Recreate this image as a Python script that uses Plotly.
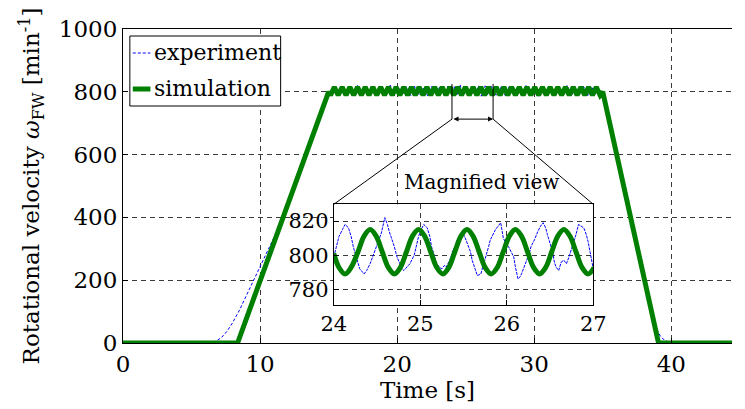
import plotly.graph_objects as go

# ---------------- data ----------------
x_ticks = [0, 10, 20, 30, 40]
y_ticks = [0, 200, 400, 600, 800, 1000]
zoom_x_ticks = [24, 25, 26, 27]
zoom_y_ticks = [780, 800, 820]

# simulation: ramp up, oscillating plateau (troughs / peaks), ramp down
sim_up_t = [0, 8.36, 15.00]
sim_up_v = [0, 0, 800]
sim_plateau_t = [15.14, 15.42, 15.70, 15.99, 16.27, 16.55, 16.83, 17.11, 17.39, 17.67,
                 17.95, 18.23, 18.51, 18.80, 19.08, 19.36, 19.64, 19.92, 20.20, 20.48,
                 20.76, 21.04, 21.32, 21.60, 21.89, 22.17, 22.45, 22.73, 23.01, 23.29,
                 23.57, 23.85, 24.13, 24.42, 24.70, 24.98, 25.26, 25.54, 25.82, 26.10,
                 26.38, 26.66, 26.94, 27.22, 27.51, 27.79, 28.07, 28.35, 28.63, 28.91,
                 29.19, 29.47, 29.75, 30.04, 30.32, 30.60, 30.88, 31.16, 31.44, 31.72,
                 32.00, 32.28, 32.56, 32.85, 33.13, 33.41, 33.69, 33.97, 34.25, 34.53,
                 34.81]
sim_plateau_v = [789, 815, 789, 815, 789, 815, 789, 815, 789, 815,
                 789, 815, 789, 815, 789, 815, 789, 815, 789, 815,
                 789, 815, 789, 815, 789, 815, 789, 815, 789, 815,
                 789, 815, 789, 815, 789, 815, 789, 815, 789, 815,
                 789, 815, 789, 815, 789, 815, 789, 815, 789, 815,
                 789, 815, 789, 815, 789, 815, 789, 815, 789, 815,
                 789, 815, 789, 815, 789, 815, 789, 815, 789, 815,
                 789]
sim_down_t = [35.00, 39.07, 44.43]
sim_down_v = [800, 0, 0]

# simulation in the magnified window 24..27 s
sim_zoom_t = [24.00, 24.06, 24.13, 24.20, 24.28, 24.35, 24.42, 24.49, 24.56, 24.63,
              24.70, 24.77, 24.84, 24.91, 24.98, 25.05, 25.12, 25.19, 25.26, 25.33,
              25.40, 25.47, 25.54, 25.61, 25.68, 25.75, 25.82, 25.89, 25.96, 26.03,
              26.10, 26.17, 26.24, 26.31, 26.38, 26.45, 26.52, 26.59, 26.66, 26.73,
              26.80, 26.87, 26.94, 27.01]
sim_zoom_v = [801, 792.8, 789, 792.8, 802, 811.2, 815, 811.2, 802, 792.8,
              789, 792.8, 802, 811.2, 815, 811.2, 802, 792.8, 789, 792.8,
              802, 811.2, 815, 811.2, 802, 792.8, 789, 792.8, 802, 811.2,
              815, 811.2, 802, 792.8, 789, 792.8, 802, 811.2, 815, 811.2,
              802, 792.8, 789, 792.8]

# experiment
exp_up_t = [0, 6.0, 6.4, 6.8, 7.2, 7.6, 8.0, 8.5, 9.0, 9.5, 10.0,
            10.5, 11.0, 11.5, 12.0, 12.5, 13.0, 13.5, 14.0, 14.5, 15.0]
exp_up_v = [0, 0, 1, 6, 18, 38, 65, 105, 150, 197, 245,
            290, 335, 385, 440, 500, 558, 618, 678, 738, 796]
exp_plat1_t = [15.3, 15.6, 15.9, 16.2, 16.5, 16.8, 17.1, 17.4, 17.7, 18.0,
               18.3, 18.6, 18.9, 19.2, 19.5, 19.8, 20.1, 20.4, 20.7, 21.0,
               21.3, 21.6, 21.9, 22.2, 22.5, 22.8, 23.1, 23.4, 23.7]
exp_plat1_v = [812, 791, 817, 788, 814, 793, 820, 786, 811, 795,
               818, 789, 815, 790, 821, 787, 813, 792, 816, 788,
               819, 791, 812, 786, 817, 793, 815, 789, 818]
exp_zoom_t = [24.00, 24.03, 24.06, 24.10, 24.13, 24.17, 24.20, 24.23, 24.27, 24.30,
              24.35, 24.38, 24.42, 24.45, 24.49, 24.52, 24.55, 24.59, 24.62, 24.64,
              24.67, 24.70, 24.73, 24.76, 24.79, 24.81, 24.85, 24.88, 24.93, 24.96,
              24.98, 25.01, 25.04, 25.08, 25.11, 25.13, 25.16, 25.19, 25.22, 25.25,
              25.28, 25.30, 25.34, 25.38, 25.41, 25.43, 25.46, 25.49, 25.52, 25.55,
              25.58, 25.60, 25.63, 25.66, 25.70, 25.73, 25.76, 25.79, 25.81, 25.84,
              25.87, 25.90, 25.93, 25.96, 25.99, 26.02, 26.05, 26.08, 26.10, 26.13,
              26.15, 26.17, 26.20, 26.23, 26.26, 26.28, 26.32, 26.36, 26.39, 26.42,
              26.45, 26.47, 26.50, 26.53, 26.55, 26.57, 26.60, 26.63, 26.66, 26.69,
              26.72, 26.75, 26.77, 26.80, 26.83, 26.86, 26.89, 26.92, 26.94, 26.97,
              27.00]
exp_zoom_v = [799, 806, 811, 815, 818, 816, 811, 804, 797, 792,
              789, 791, 795, 799, 805, 809, 813, 822, 818, 814,
              810, 805, 799, 795, 792, 791, 793, 795, 800, 806,
              811, 815, 818, 816, 811, 805, 800, 795, 793, 792,
              794, 793, 797, 803, 806, 809, 811, 813, 810, 806,
              802, 797, 793, 788, 789, 794, 799, 805, 809, 812,
              815, 817, 819, 810, 807, 805, 802, 799, 793, 786,
              787, 789, 793, 797, 801, 805, 809, 814, 817, 819,
              816, 812, 807, 802, 796, 793, 791, 796, 797, 795,
              799, 804, 806, 812, 818, 817, 816, 812, 808, 800,
              792]
exp_plat2_t = [27.3, 27.6, 27.9, 28.2, 28.5, 28.8, 29.1, 29.4, 29.7, 30.0,
               30.3, 30.6, 30.9, 31.2, 31.5, 31.8, 32.1, 32.4, 32.7, 33.0,
               33.3, 33.6, 33.9, 34.2, 34.5, 34.8]
exp_plat2_v = [790, 816, 787, 819, 792, 814, 788, 820, 791, 817,
               786, 813, 794, 818, 789, 815, 792, 821, 787, 812,
               790, 817, 788, 814, 793, 805]
exp_down_t = [35.1, 35.5, 36.0, 36.5, 37.0, 37.5, 38.0, 38.3, 38.6, 38.9,
              39.2, 39.5, 39.8, 40.1, 44.43]
exp_down_v = [790, 715, 615, 512, 410, 305, 200, 140, 88, 48,
              22, 9, 3, 0, 0]

legend_labels = ["experiment", "simulation"]

# ---------------- styling / layout ----------------
W, H = 745, 409
ML, MR, MT, MB = 123, 0, 29, 66
PW, PH = W - ML - MR, H - MT - MB
FONT = "DejaVu Serif"
GREEN = "rgb(0,128,0)"
BLUE = "rgb(0,0,255)"
GRID = "#3a3a3a"
x_range = [0, 44.43]
y_range = [0, 1000]
zoom_x_range = [24, 27]
zoom_y_range = [770.8, 829.8]


def px_x(p):
    return (p - ML) / PW


def px_y(p):
    return (H - MB - p) / PH


inset_dx = [px_x(338.3), px_x(603.3)]
inset_dy = [px_y(305.0), px_y(204.3)]

sim_t = sim_up_t + sim_plateau_t + sim_down_t
sim_v = sim_up_v + sim_plateau_v + sim_down_v
exp_t = exp_up_t + exp_plat1_t + exp_zoom_t + exp_plat2_t + exp_down_t
exp_v = exp_up_v + exp_plat1_v + exp_zoom_v + exp_plat2_v + exp_down_v

fig = go.Figure()
fig.add_trace(go.Scatter(x=exp_t, y=exp_v, mode="lines", name=legend_labels[0],
                         line=dict(color=BLUE, width=1, dash="3px,2px"),
                         xaxis="x", yaxis="y", showlegend=False))
fig.add_trace(go.Scatter(x=sim_t, y=sim_v, mode="lines", name=legend_labels[1],
                         line=dict(color=GREEN, width=5),
                         xaxis="x", yaxis="y", showlegend=False))
fig.add_trace(go.Scatter(x=exp_zoom_t, y=exp_zoom_v, mode="lines",
                         line=dict(color=BLUE, width=1, dash="3px,1px"),
                         xaxis="x2", yaxis="y2", showlegend=False))
fig.add_trace(go.Scatter(x=sim_zoom_t, y=sim_zoom_v, mode="lines",
                         line=dict(color=GREEN, width=5, shape="spline"),
                         xaxis="x2", yaxis="y2", showlegend=False))

axis_common = dict(showline=True, linecolor="black", linewidth=1,
                   ticks="inside", ticklen=5, tickcolor="black",
                   showgrid=True, gridcolor=GRID, gridwidth=1, griddash="5px,4px",
                   zeroline=False, tickfont=dict(family=FONT, size=23, color="black"))

fig.update_layout(
    width=W, height=H,
    margin=dict(l=ML, r=MR, t=MT, b=MB),
    paper_bgcolor="white", plot_bgcolor="white",
    font=dict(family=FONT, size=23, color="black"),
    showlegend=False,
    xaxis=dict(axis_common, range=x_range, tickvals=x_ticks, mirror=True,
               title=dict(text="Time [s]", font=dict(family=FONT, size=23), standoff=2)),
    yaxis=dict(axis_common, range=y_range, tickvals=y_ticks, mirror=False,
               title=dict(text="Rotational velocity <i>ω</i><sub>FW</sub> [min<sup>-1</sup>]",
                          font=dict(family=FONT, size=23), standoff=12)),
    xaxis2=dict(axis_common, domain=inset_dx, anchor="y2", range=zoom_x_range,
                tickvals=zoom_x_ticks, mirror=True,
                tickfont=dict(family=FONT, size=21, color="black")),
    yaxis2=dict(axis_common, domain=inset_dy, anchor="x2", range=zoom_y_range,
                tickvals=zoom_y_ticks, mirror=True,
                tickfont=dict(family=FONT, size=21, color="black")),
)

# zoom-window markers on the main axes
mark_lo, mark_hi = 713, 825
tx0 = x_range[0] + inset_dx[0] * (x_range[1] - x_range[0])
tx1 = x_range[0] + inset_dx[1] * (x_range[1] - x_range[0])
ty = y_range[0] + inset_dy[1] * (y_range[1] - y_range[0])
shapes = [
    dict(type="line", xref="x", yref="y", x0=zoom_x_range[0], x1=zoom_x_range[0], y0=mark_lo, y1=mark_hi,
         line=dict(color="black", width=1)),
    dict(type="line", xref="x", yref="y", x0=zoom_x_range[1], x1=zoom_x_range[1], y0=mark_lo, y1=mark_hi,
         line=dict(color="black", width=1)),
    dict(type="line", xref="x", yref="y", x0=zoom_x_range[0], x1=tx0, y0=mark_lo, y1=ty,
         line=dict(color="black", width=1)),
    dict(type="line", xref="x", yref="y", x0=zoom_x_range[1], x1=tx1, y0=mark_lo, y1=ty,
         line=dict(color="black", width=1)),
]
# manual legend box
lg_x0, lg_x1, lg_y0, lg_y1 = px_x(130), px_x(284), px_y(106), px_y(36)
shapes.append(dict(type="rect", xref="paper", yref="paper", x0=lg_x0, x1=lg_x1, y0=lg_y0, y1=lg_y1,
                   line=dict(color="black", width=1), fillcolor="white", layer="above"))
row_y = [px_y(53), px_y(89)]
shapes.append(dict(type="line", xref="paper", yref="paper", x0=px_x(133), x1=px_x(151), y0=row_y[0], y1=row_y[0],
                   line=dict(color=BLUE, width=1, dash="3px,2px")))
shapes.append(dict(type="line", xref="paper", yref="paper", x0=px_x(133), x1=px_x(151), y0=row_y[1], y1=row_y[1],
                   line=dict(color=GREEN, width=5)))
fig.update_layout(shapes=shapes)

annotations = [
    dict(x=zoom_x_range[1], y=mark_lo, ax=zoom_x_range[0], ay=mark_lo, xref="x", yref="y",
         axref="x", ayref="y", text="", showarrow=True, arrowhead=2, arrowside="end+start",
         arrowsize=1, arrowwidth=1, arrowcolor="black"),
    dict(x=(zoom_x_range[0] + zoom_x_range[1]) / 2 + 0.64, y=512, xref="x", yref="y",
         text="Magnified view", showarrow=False, font=dict(family=FONT, size=20, color="black")),
]
for lbl, yy in zip(legend_labels, row_y):
    annotations.append(dict(x=px_x(153), y=yy, xref="paper", yref="paper", xanchor="left",
                            yanchor="middle", text=lbl, showarrow=False,
                            font=dict(family=FONT, size=22, color="black")))
fig.update_layout(annotations=annotations)

fig.write_html("out.html")
